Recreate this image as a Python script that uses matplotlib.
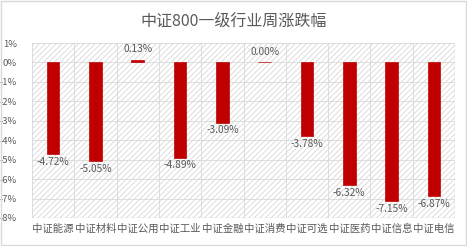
import matplotlib
matplotlib.use("Agg")
import matplotlib.pyplot as plt
from matplotlib.patches import Rectangle
from matplotlib.ticker import FuncFormatter

plt.rcParams['font.family'] = ['Noto Sans CJK SC', 'DejaVu Sans']
plt.rcParams['hatch.linewidth'] = 0.5
plt.rcParams['hatch.color'] = '#d0d0d0'

# data
categories = ["中证能源", "中证材料", "中证公用", "中证工业", "中证金融",
              "中证消费", "中证可选", "中证医药", "中证信息", "中证电信"]
changes = [-4.72, -5.05, 0.13, -4.89, -3.09, 0.00, -3.78, -6.32, -7.15, -6.87]
title = "中证800一级行业周涨跌幅"

text_gray = "#595959"
bar_red = "#C00000"

fig = plt.figure(figsize=(4.67, 2.46), dpi=100)
ax = fig.add_axes([0.0685, 0.114, 0.906, 0.711])

# hatched plot background
bg = Rectangle((0, 0), 1, 1, transform=ax.transAxes, facecolor="white",
               edgecolor="#d0d0d0", hatch="//////", linewidth=0.3, zorder=0)
ax.add_patch(bg)

x = list(range(len(categories)))
ax.bar(x, changes, width=0.3, color=bar_red, edgecolor=bar_red,
       linewidth=0.5, zorder=3)

for xi, v in zip(x, changes):
    if v >= 0:
        ax.text(xi, v + 0.3, f"{v:.2f}%", ha="center", va="bottom",
                fontsize=7.3, color=text_gray, zorder=4)
    else:
        ax.text(xi, v - 0.15, f"{v:.2f}%", ha="center", va="top",
                fontsize=7.3, color=text_gray, zorder=4)

ax.set_xlim(-0.5, len(categories) - 0.5)
ax.set_ylim(-8, 1)
ax.set_yticks(range(-8, 2))
ax.yaxis.set_major_formatter(FuncFormatter(lambda v, p: f"{int(v)}%"))
ax.set_xticks(x)
ax.set_xticklabels(categories, fontsize=7.5, color=text_gray)

# vertical grid lines between categories
for b in [i + 0.5 for i in range(-1, len(categories))]:
    ax.axvline(b, color="#d9d9d9", linewidth=0.6, zorder=1)
ax.yaxis.grid(True, color="#d9d9d9", linewidth=0.6, zorder=1)
ax.set_axisbelow(True)

ax.tick_params(axis="y", labelsize=6.8, colors=text_gray, length=0, pad=11)
ax.tick_params(axis="x", length=0, pad=4)
for s in ax.spines.values():
    s.set_visible(False)

fig.text(0.5, 0.915, title, ha="center", va="center", fontsize=11.5,
         color=text_gray)

# outer chart border
fig.patches.append(Rectangle((0.002, 0.004), 0.995, 0.992, transform=fig.transFigure,
                             fill=False, edgecolor="#d9d9d9", linewidth=1))

fig.savefig("out.png", dpi=100)
